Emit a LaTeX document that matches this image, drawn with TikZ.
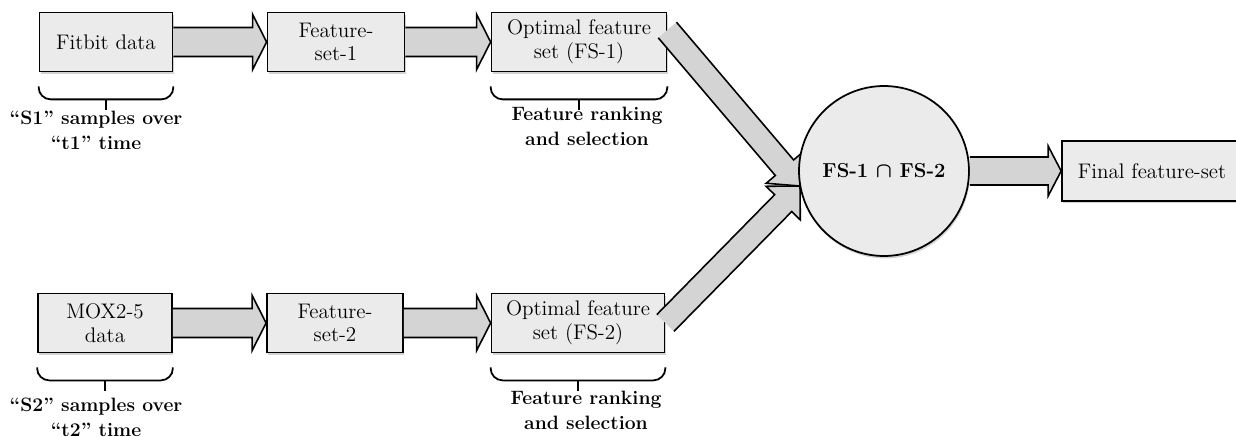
\documentclass[tikz,border=0pt]{standalone}
\usepackage{amsmath}
\usetikzlibrary{calc,shadows}
\definecolor{boxgray}{HTML}{EBEBEB}
\definecolor{arrgray}{HTML}{D4D4D4}
\tikzset{
  blk/.style={draw, line width=1pt, fill=boxgray, align=center, minimum height=1.18cm,
    font=\fontsize{12}{13.5}\selectfont,
    drop shadow={opacity=0.35, shadow xshift=0.6pt, shadow yshift=-1.4pt}},
  circ/.style={circle, draw, line width=1pt, fill=boxgray, minimum size=3.4cm,
    font=\fontsize{11.5}{14}\selectfont\bfseries,
    drop shadow={opacity=0.35, shadow xshift=0.6pt, shadow yshift=-1.4pt}},
  farr/.style={fill=arrgray},
  farredge/.style={line width=0.9pt, line join=miter},
  brc/.style={line width=1pt, rounded corners=0.24cm},
  lbl/.style={font=\fontsize{11}{14}\selectfont\bfseries, align=center, inner sep=0pt}
}
% fat arrow: shaft half, head half, head length (cm), from, to
\newcommand{\fatarrow}[5]{%
  \coordinate (hb) at ($(#5)!#3cm!(#4)$);
  \coordinate (p1) at ($(#4)!#1cm!90:(#5)$);
  \coordinate (p2) at ($(hb)!#1cm!90:(#5)$);
  \coordinate (p3) at ($(hb)!#2cm!90:(#5)$);
  \coordinate (p4) at ($(hb)!#2cm!-90:(#5)$);
  \coordinate (p5) at ($(hb)!#1cm!-90:(#5)$);
  \coordinate (p6) at ($(#4)!#1cm!-90:(#5)$);
  \fill[farr] (p1) -- (p2) -- (p3) -- (#5) -- (p4) -- (p5) -- (p6) -- cycle;
  \draw[farredge] (p1) -- (p2) -- (p3) -- (#5) -- (p4) -- (p5) -- (p6);}
% brace under a box
\newcommand{\brc}[1]{%
  \draw[brc] ($(#1.south west)+(0,14)$) |- ($(#1.south)+(0,27)$) -| ($(#1.south east)+(0,14)$);
  \draw[line width=1pt] ($(#1.south)+(0,27)$) -- ++(0,11);}

\begin{document}
\begin{tikzpicture}[x=0.02cm, y=-0.02cm]
\useasboundingbox (0,0) rectangle (1236,436);

% upper row
\node[blk, minimum width=2.66cm] (fitbit) at (106,42) {Fitbit data};
\node[blk, minimum width=2.74cm] (fs1) at (336,42) {Feature-\\set-1};
\node[blk, minimum width=3.5cm] (opt1) at (579,42) {Optimal feature\\set (FS-1)};
% lower row
\node[blk, minimum width=2.68cm] (mox) at (105,323) {MOX2-5\\data};
\node[blk, minimum width=2.72cm] (fs2) at (335,323) {Feature-\\set-2};
\node[blk, minimum width=3.46cm] (opt2) at (578,323) {Optimal feature\\set (FS-2)};

\brc{fitbit} \brc{opt1} \brc{mox} \brc{opt2}
\node[lbl, anchor=north] (s1txt) at (96,111) {``S1'' samples over\\``t1'' time};
\node[lbl, anchor=north] (rank1) at (587,107) {Feature ranking\\and selection};
\node[lbl, anchor=north] (s2txt) at (96,398) {``S2'' samples over\\``t2'' time};
\node[lbl, anchor=north] (rank2) at (586,391) {Feature ranking\\and selection};

\fatarrow{0.29}{0.55}{0.28}{fitbit.east}{fs1.west} %fitbit -> fs1
\fatarrow{0.29}{0.55}{0.28}{fs1.east}{opt1.west}
\fatarrow{0.29}{0.55}{0.28}{mox.east}{fs2.west}
\fatarrow{0.29}{0.55}{0.28}{fs2.east}{opt2.west}

\coordinate (o1) at ($(opt1.east)+(0,-12)$);
\coordinate (meet) at (800,186);
\fatarrow{0.24}{0.48}{0.48}{o1}{meet} %upper diagonal
\fatarrow{0.24}{0.48}{0.48}{opt2.east}{meet} %lower diagonal

\node[circ] (fsint) at (884,171) {FS-1 $\boldsymbol{\cap}$ FS-2};
\node[blk, minimum width=3.6cm, minimum height=1.2cm] (final) at (1152,171) {Final feature-set};
\fatarrow{0.28}{0.5}{0.26}{fsint.east}{final.west}
\end{tikzpicture}
\end{document}
